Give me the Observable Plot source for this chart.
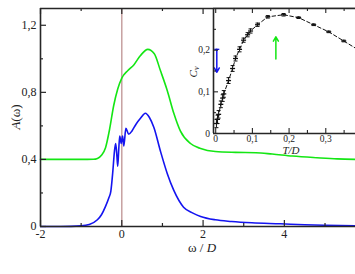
<!DOCTYPE html>
<html><head><meta charset="utf-8">
<script src="https://cdn.jsdelivr.net/npm/d3@7"></script>
<script src="https://cdn.jsdelivr.net/npm/@observablehq/plot@0.6"></script>
<style>
body{margin:0;background:#fff}
#c{position:relative;width:355px;height:274px;overflow:hidden}
#c svg{position:absolute;left:0;top:0}
#c svg text{font-family:"Liberation Serif","Times New Roman",serif !important}
</style>
</head><body><div id="c"></div>
<script>
// ---- main panel data: spectral function A(omega) ----
const omegaGreen = [-2, -1, -0.7, -0.6, -0.5, -0.4, -0.3, -0.2, -0.1, 0, 0.15, 0.3, 0.46, 0.64, 0.8, 0.95, 1.12, 1.28, 1.44, 1.69, 1.94, 2.3, 2.8, 3.3, 3.7, 4.2, 4.8, 5.3, 5.75];
const aGreen     = [0.40, 0.40, 0.401, 0.406, 0.425, 0.47, 0.58, 0.72, 0.82, 0.885, 0.93, 0.965, 1.02, 1.056, 1.03, 0.93, 0.81, 0.675, 0.57, 0.495, 0.465, 0.447, 0.442, 0.44, 0.432, 0.42, 0.41, 0.403, 0.40];
const omegaBlue = [-2, -1.5, -1.0, -0.8, -0.6, -0.5, -0.4, -0.32, -0.27, -0.22, -0.18, -0.15, -0.12, -0.1, -0.075, -0.05, -0.015, 0.02, 0.05, 0.1, 0.17, 0.25, 0.35, 0.46, 0.58, 0.68, 0.79, 0.95, 1.12, 1.28, 1.52, 1.75, 1.94, 2.3, 2.7, 3.2, 3.9, 4.5, 5.0, 5.75];
const aBlue     = [0, 0, 0.004, 0.012, 0.04, 0.07, 0.12, 0.17, 0.21, 0.33, 0.45, 0.495, 0.42, 0.36, 0.46, 0.54, 0.495, 0.54, 0.48, 0.585, 0.55, 0.57, 0.61, 0.645, 0.675, 0.65, 0.59, 0.45, 0.315, 0.215, 0.115, 0.08, 0.06, 0.04, 0.03, 0.022, 0.016, 0.01, 0.007, 0.004];
const xDomain = [-2, 5.75];
const yDomain = [0, 1.3];
const xMajor = [-2, 0, 2, 4];
const xMinor = [-1, 1, 3, 5];
const yMajor = [0, 0.4, 0.8, 1.2];
const yMinor = [0.2, 0.6, 1.0];
const zeroLine = [0];

// ---- inset data: specific heat C_v(T/D) ----
const tempT = [0.002, 0.005, 0.008, 0.014, 0.019, 0.022, 0.035, 0.046, 0.054, 0.065, 0.076, 0.087, 0.095, 0.114, 0.142, 0.185, 0.226, 0.267, 0.308, 0.349, 0.39];
const cv    = [0.024, 0.034, 0.046, 0.070, 0.085, 0.095, 0.127, 0.156, 0.180, 0.202, 0.224, 0.237, 0.246, 0.261, 0.280, 0.285, 0.278, 0.261, 0.244, 0.222, 0.200];
const cvErr = [0.010, 0.010, 0.009, 0.008, 0.008, 0.008, 0.007, 0.007, 0.006, 0.006, 0.005, 0.005, 0.005, 0.004, 0.003, 0.003, 0.002, 0.002, 0.002, 0.002, 0.002];
const tDomain = [-0.006, 0.381];
const cDomain = [0, 0.3];
const tMajor = [0, 0.1, 0.2, 0.3];
const tMinor = [0.05, 0.15, 0.25, 0.35];
const cMajor = [0, 0.1, 0.2];
const cMinor = [0.05, 0.15, 0.25];
// arrows (T, from C, to C)
const blueArrow = [{t: 0.003, c1: 0.202, c2: 0.147}];
const greenArrow = [{t: 0.164, c1: 0.179, c2: 0.232}];

// ---- build ----
const W = 355, H = 274;
const M = {l: 40, r: 0, t: 8, b: 48};
const pw = W - M.l - M.r, ph = H - M.t - M.b;
const ax = "#262626";
const font = "'Liberation Serif','Times New Roman',serif";
const fmt = d => String(d).replace(".", ",");
const greenData = omegaGreen.map((w, i) => ({w, a: aGreen[i]}));
const blueData = omegaBlue.map((w, i) => ({w, a: aBlue[i]}));

const main = Plot.plot({
  width: W, height: H,
  marginLeft: M.l, marginRight: M.r, marginTop: M.t, marginBottom: M.b,
  style: {fontFamily: font, fontSize: "11px", color: "#222", background: "white"},
  x: {domain: xDomain, label: null},
  y: {domain: yDomain, label: null},
  marks: [
    Plot.ruleX(zeroLine, {x: d => d, stroke: "#c39a9a", strokeWidth: 1.4}),
    Plot.line(greenData, {x: "w", y: "a", stroke: "#14e614", strokeWidth: 1.6, curve: "monotone-x"}),
    Plot.line(blueData, {x: "w", y: "a", stroke: "#1414f0", strokeWidth: 1.6, curve: "monotone-x"}),
    Plot.ruleX([xDomain[0]], {x: d => d, stroke: ax, strokeWidth: 1.6}),
    Plot.ruleY([yDomain[0], yDomain[1]], {y: d => d, stroke: ax, strokeWidth: 1.6}),
    Plot.tickX(xMajor, {x: d => d, insetTop: ph - 6, stroke: ax, strokeWidth: 1.2}),
    Plot.tickX(xMinor, {x: d => d, insetTop: ph - 3, stroke: ax, strokeWidth: 1.2}),
    Plot.tickX(xMajor, {x: d => d, insetBottom: ph - 6, stroke: ax, strokeWidth: 1.2}),
    Plot.tickX(xMinor, {x: d => d, insetBottom: ph - 3, stroke: ax, strokeWidth: 1.2}),
    Plot.tickY(yMajor, {y: d => d, insetRight: pw - 6, stroke: ax, strokeWidth: 1.2}),
    Plot.tickY(yMinor, {y: d => d, insetRight: pw - 3, stroke: ax, strokeWidth: 1.2}),
    Plot.axisX(xMajor, {tickSize: 0, tickPadding: 3, tickFormat: fmt, label: null, fontSize: 12}),
    Plot.axisY(yMajor, {tickSize: 0, tickPadding: 4, tickFormat: fmt, label: null, fontSize: 12})
  ]
});

const IM = {l: 213, r: 0, t: 8, b: H - 133};
const iw = W - IM.l - IM.r, ih = H - IM.t - IM.b;
const cvData = tempT.map((t, i) => ({t, c: cv[i], e: cvErr[i]}));
const capSymbol = {draw(ctx, size) { const r = Math.sqrt(size / Math.PI); ctx.moveTo(-r, 0); ctx.lineTo(r, 0); }};

const inset = Plot.plot({
  width: W, height: H,
  marginLeft: IM.l, marginRight: IM.r, marginTop: IM.t, marginBottom: IM.b,
  style: {fontFamily: font, fontSize: "9px", color: "#222", background: "none"},
  x: {domain: tDomain, label: null},
  y: {domain: cDomain, label: null},
  marks: [
    Plot.frame({fill: "white", stroke: "none"}),
    Plot.line(cvData, {x: "t", y: "c", stroke: "#111", strokeWidth: 1, strokeDasharray: "3.5,2.5", clip: true}),
    Plot.ruleX(cvData, {x: "t", y1: d => d.c - d.e, y2: d => d.c + d.e, stroke: "#111", strokeWidth: 1, clip: true}),
    Plot.dot(cvData, {x: "t", y: d => d.c - d.e, symbol: capSymbol, r: 2, stroke: "#111", strokeWidth: 1, clip: true}),
    Plot.dot(cvData, {x: "t", y: d => d.c + d.e, symbol: capSymbol, r: 2, stroke: "#111", strokeWidth: 1, clip: true}),
    Plot.dot(cvData, {x: "t", y: "c", symbol: capSymbol, r: 2.5, stroke: "#111", strokeWidth: 1.3, clip: true}),
    Plot.arrow(blueArrow, {x1: "t", x2: "t", y1: "c1", y2: "c2", stroke: "#1414f0", strokeWidth: 1.5, headLength: 5}),
    Plot.dot(blueArrow, {x: "t", y: "c1", symbol: capSymbol, r: 2.5, stroke: "#1414f0", strokeWidth: 1.3}),
    Plot.arrow(greenArrow, {x1: "t", x2: "t", y1: "c1", y2: "c2", stroke: "#14e614", strokeWidth: 1.5, headLength: 5}),
    Plot.ruleX([tDomain[0]], {x: d => d, stroke: ax, strokeWidth: 1.6}),
    Plot.ruleY([cDomain[0], cDomain[1]], {y: d => d, stroke: ax, strokeWidth: 1.6}),
    Plot.tickX(tMajor, {x: d => d, insetTop: ih - 5, stroke: ax, strokeWidth: 1.1}),
    Plot.tickX(tMinor, {x: d => d, insetTop: ih - 3, stroke: ax, strokeWidth: 1.1}),
    Plot.tickX(tMajor, {x: d => d, insetBottom: ih - 5, stroke: ax, strokeWidth: 1.1}),
    Plot.tickX(tMinor, {x: d => d, insetBottom: ih - 3, stroke: ax, strokeWidth: 1.1}),
    Plot.tickY(cMajor, {y: d => d, insetRight: iw - 5, stroke: ax, strokeWidth: 1.1}),
    Plot.tickY(cMinor, {y: d => d, insetRight: iw - 3, stroke: ax, strokeWidth: 1.1}),
    Plot.axisX(tMajor, {tickSize: 0, tickPadding: 1.5, tickFormat: fmt, label: null, fontSize: 9.5}),
    Plot.axisY(cMajor, {tickSize: 0, tickPadding: 3.5, tickFormat: fmt, label: null, fontSize: 9.5})
  ]
});

const c = document.getElementById("c");
c.appendChild(main);
c.appendChild(inset);

// axis titles
const ms = d3.select(main);
const yl = ms.append("text").attr("transform", "translate(15,117) rotate(-90)")
  .attr("text-anchor", "middle").attr("dominant-baseline", "central")
  .style("font-size", "13px").attr("fill", "#222");
yl.append("tspan").style("font-style", "italic").text("A");
yl.append("tspan").text("(ω)");
const xl = ms.append("text").attr("x", 202).attr("y", 247)
  .attr("text-anchor", "middle").attr("dominant-baseline", "central")
  .style("font-size", "13px").attr("fill", "#222");
xl.append("tspan").text("ω / ");
xl.append("tspan").style("font-style", "italic").text("D");

const is = d3.select(inset);
is.append("text").attr("x", 291).attr("y", 150)
  .attr("text-anchor", "middle").attr("dominant-baseline", "central")
  .style("font-size", "11px").style("font-style", "italic").attr("fill", "#222")
  .text("T/D");
const cl = is.append("text").attr("transform", "translate(193,72) rotate(-90)")
  .attr("text-anchor", "middle").attr("dominant-baseline", "central")
  .style("font-size", "11px").attr("fill", "#222");
cl.append("tspan").style("font-style", "italic").text("C");
cl.append("tspan").attr("dy", "3").style("font-size", "8px").style("font-style", "italic").text("v");
</script>
</body></html>
